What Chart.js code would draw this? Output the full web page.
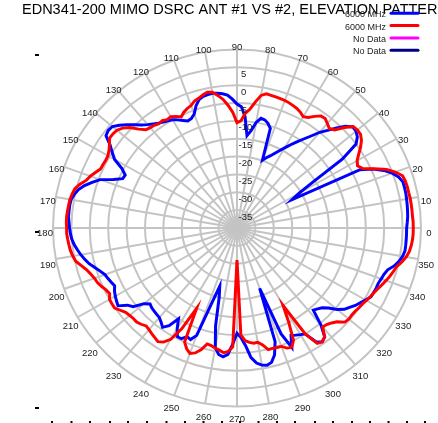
<!DOCTYPE html>
<html><head><meta charset="utf-8">
<script src="https://cdn.jsdelivr.net/npm/chart.js@4.4.1/dist/chart.umd.min.js"></script>
<style>html,body{margin:0;padding:0;background:#fff;overflow:hidden}#wrap{width:438px;height:423px;position:relative}</style>
</head><body><div id="wrap"><canvas id="c" width="438" height="423"></canvas></div>
<script>
const chartTitle = 'EDN341-200 MIMO DSRC ANT #1 VS #2, ELEVATION PATTERN';
const seriesNames = ['6000 MHz', '6000 MHz', 'No Data', 'No Data'];
const angles = [0,2,4,6,8,10,12,14,16,18,20,22,24,26,28,30,32,34,36,38,40,42,44,46,48,50,52,54,56,58,60,62,64,66,68,70,72,74,76,78,80,82,84,86,88,90,92,94,96,98,100,102,104,106,108,110,112,114,116,118,120,122,124,126,128,130,132,134,136,138,140,142,144,146,148,150,152,154,156,158,160,162,164,166,168,170,172,174,176,178,180,182,184,186,188,190,192,194,196,198,200,202,204,206,208,210,212,214,216,218,220,222,224,226,228,230,232,234,236,238,240,242,244,246,248,250,252,254,256,258,260,262,264,266,268,270,272,274,276,278,280,282,284,286,288,290,292,294,296,298,300,302,304,306,308,310,312,314,316,318,320,322,324,326,328,330,332,334,336,338,340,342,344,346,348,350,352,354,356,358];
// blue trace (dB), one value per angle above
const blueDb = [6.1,6.3,6.5,6.6,6.7,6.8,6.9,6.9,6.9,6.2,4.9,3.0,0.5,-2.8,-23,-20.5,-15.5,-5.5,0.0,1.5,2.2,2.3,1.0,-1.0,-3.2,-5.0,-7.3,-9.2,-10.9,-12.5,-14.1,-15.5,-16.8,-17.9,-18.8,-19.8,-10.7,-9.5,-8.8,-8.6,-10.0,-12.5,-14.0,-8.7,-6.0,-5.3,-3.9,-2.7,-2.2,-1.9,-1.7,-1.8,-2.0,-2.6,-4.0,-6.0,-6.9,-7.2,-6.5,-5.7,-5.0,-4.6,-4.2,-3.7,-3.0,-2.2,-1.2,0.2,1.6,3.0,4.2,4.4,4.0,1.6,0.0,-1.6,-4.6,-6.2,-6.0,-3.8,-0.4,1.4,3.1,4.4,5.2,5.8,5.9,5.9,5.9,5.7,5.5,5.3,5.0,4.5,3.8,3.1,2.3,1.4,0.2,-0.9,-1.8,-2.2,-2.6,-3.0,-2.3,-1.8,-1.4,-1.0,-3.2,-4.2,-7.0,-8.2,-7.8,-7.6,-7.4,-7.2,-6.5,-5.6,-7.0,-10.0,-7.5,-5.5,-5.5,-6.7,-6.3,-8,-18,-23,-20,-12,-6.0,-4.2,-3.7,-4.5,-7.5,-10.5,-9.3,-7.0,-3.5,-1.8,-1.0,-0.7,-1.2,-3.0,-6.5,-22,-8,-3.4,-6.5,-6.0,-5.5,-5.0,-1.5,-0.6,-1.3,-4.5,-9.0,-8.5,-7.8,-6.5,-4.5,-3.0,-2.2,-1.2,-0.5,0.3,1.2,1.3,1.4,1.4,1.7,2.0,2.6,4.0,5.0,5.7,6.1,6.1,6.1,6.1];
// red trace (dB)
const redDb = [7.9,7.9,7.8,7.8,7.8,7.8,7.7,7.7,7.6,7.3,5.8,3.8,0.8,-2.0,-2.9,-2.3,-1.0,0.5,1.8,2.6,2.7,2.5,0.5,-1.8,-2.5,-1.8,-1.1,-1.2,-2.3,-3.5,-4.0,-3.3,-2.8,-2.5,-2.2,-2.0,-1.9,-1.8,-1.7,-1.6,-2.3,-4.4,-6.6,-7.8,-10.0,-10.5,-7.6,-5.6,-3.8,-2.5,-1.4,-1.1,-1.6,-2.2,-2.6,-3.5,-3.9,-4.5,-5.4,-4.6,-4.0,-4.2,-3.7,-3.9,-3.5,-3.3,-3.0,-1.5,0.5,1.8,2.6,2.8,2.8,1.8,1.0,0.5,0.4,0.5,0.6,1.5,2.4,3.1,4.4,5.4,5.8,6.1,6.2,6.3,6.4,6.4,6.3,6.3,6.1,5.9,5.7,5.3,4.8,3.6,2.5,1.8,1.2,0.9,0.3,-0.4,-0.8,0.0,0.1,0.1,-0.8,-1.6,-1.9,-2.1,-2.1,-2.5,-3.1,-2.8,-2.4,-2.0,-1.6,-2.3,-4.0,-8,-15,-5.0,-3.5,-2.6,-3.2,-4.5,-6.5,-6.3,-5.8,-5.5,-4.9,-5.3,-6.7,-31,-10,-8.4,-7.8,-7.4,-7.5,-6.5,-4.9,-4.9,-4.8,-4.7,-3.7,-3.4,-5,-10,-15,-5,-1.0,-0.6,-1.3,-3.8,-3.6,-3.0,-2.2,-0.6,-0.3,-0.4,-0.3,0.0,0.2,0.6,1.0,1.4,1.9,2.5,3.1,3.7,4.2,4.7,5.8,6.7,7.3,7.6,7.8,7.9];
const tickValues = [5,0,-5,-10,-15,-20,-25,-30,-35];
const tickLabels = ['5','0','-5','-10','-15','-20','-25','-30','-35'];
const angleTickLabels = ['0','10','20','30','40','50','60','70','80','90','100','110','120','130','140','150','160','170','180','190','200','210','220','230','240','250','260','270','280','290','300','310','320','330','340','350'];

const order = angles.map((a, i) => (angles.length - i) % angles.length);
const chartLabels = order.map(j => String(angles[j]));
const blueData = order.map(j => blueDb[j]);
const redData = order.map(j => redDb[j]);

const FONT = '"Liberation Sans", Arial, sans-serif';
const SY = 0.9701; // the original polar grid is slightly flattened vertically

const decor = {
  id: 'decor',
  beforeDraw(chart) {
    const ctx = chart.ctx;
    ctx.save();
    ctx.setTransform(1, 0, 0, SY, 0, 0);
  },
  afterDraw(chart) {
    const s = chart.scales.r, ctx = chart.ctx;
    ctx.restore();
    ctx.save();
    // radial tick labels
    ctx.font = '9.5px ' + FONT;
    ctx.fillStyle = '#222';
    ctx.textAlign = 'left';
    ctx.textBaseline = 'middle';
    tickValues.forEach((v, k) => {
      const d = s.getDistanceFromCenterForValue(v);
      const y = (s.yCenter - d) * SY + 7;
      const x = s.xCenter + 1.5 + (tickLabels[k].startsWith('-') ? 0 : 2.6);
      ctx.fillText(tickLabels[k], x, y);
    });
    // angle labels
    angleTickLabels.forEach(lbl => {
      const j = angles.indexOf(Number(lbl));
      const idx = order.indexOf(j);
      const p = s.getPointPosition(idx, 192);
      ctx.textAlign = 'center';
      ctx.fillText(lbl, p.x, p.y * SY + 5.5);
    });
    // title
    ctx.font = '14.5px ' + FONT;
    ctx.fillStyle = '#000';
    ctx.textAlign = 'left';
    ctx.textBaseline = 'alphabetic';
    ctx.fillText(chartTitle, 22, 14);
    // legend
    ctx.font = '9px ' + FONT;
    ctx.textAlign = 'right';
    ctx.textBaseline = 'middle';
    chart.data.datasets.forEach((ds, k) => {
      const y = 13.3 + k * 12.3;
      ctx.fillStyle = '#222';
      ctx.fillText(ds.label, 386, y + 1.5);
      ctx.strokeStyle = ds.borderColor;
      ctx.lineWidth = 3;
      ctx.lineCap = 'round';
      ctx.beginPath(); ctx.moveTo(391, y); ctx.lineTo(418, y); ctx.stroke();
    });
    ctx.fillStyle = '#000';
    [55, 232, 408].forEach(y => ctx.fillRect(35, y - 1, 4, 2));
    const bx = [52,71.5,90,110,128,147,166.5,185,203.5,222,240,258.5,277,295,315,333,352,370,388.5,407,425];
    bx.forEach(x => ctx.fillRect(x - 1, 421, 2, 2));
    ctx.restore();
  }
};

new Chart(document.getElementById('c'), {
  type: 'radar',
  data: {
    labels: chartLabels,
    datasets: [
      { label: seriesNames[0], data: blueData, borderColor: '#0000ff', order: 2 },
      { label: seriesNames[1], data: redData, borderColor: '#ff0000', order: 1 },
      { label: seriesNames[2], data: [], borderColor: '#ff00ff', order: 3 },
      { label: seriesNames[3], data: [], borderColor: '#000080', order: 4 }
    ]
  },
  options: {
    responsive: false,
    animation: false,
    devicePixelRatio: 1,
    layout: { padding: { left: 53, right: 17, top: 51, bottom: 4 } },
    elements: { line: { borderWidth: 3, fill: false, tension: 0 }, point: { radius: 0, hoverRadius: 0 } },
    plugins: { legend: { display: false }, title: { display: false }, tooltip: { enabled: false } },
    scales: {
      r: {
        min: -40, max: 10, startAngle: 90,
        ticks: { display: false, stepSize: 5 },
        pointLabels: { display: false },
        grid: { color: '#c4c4c4', lineWidth: 2, circular: true },
        angleLines: { color: '#c4c4c4', lineWidth: ctx => (ctx.index % 5 === 0 ? 2 : 0) }
      }
    }
  },
  plugins: [decor]
});
</script></body></html>
